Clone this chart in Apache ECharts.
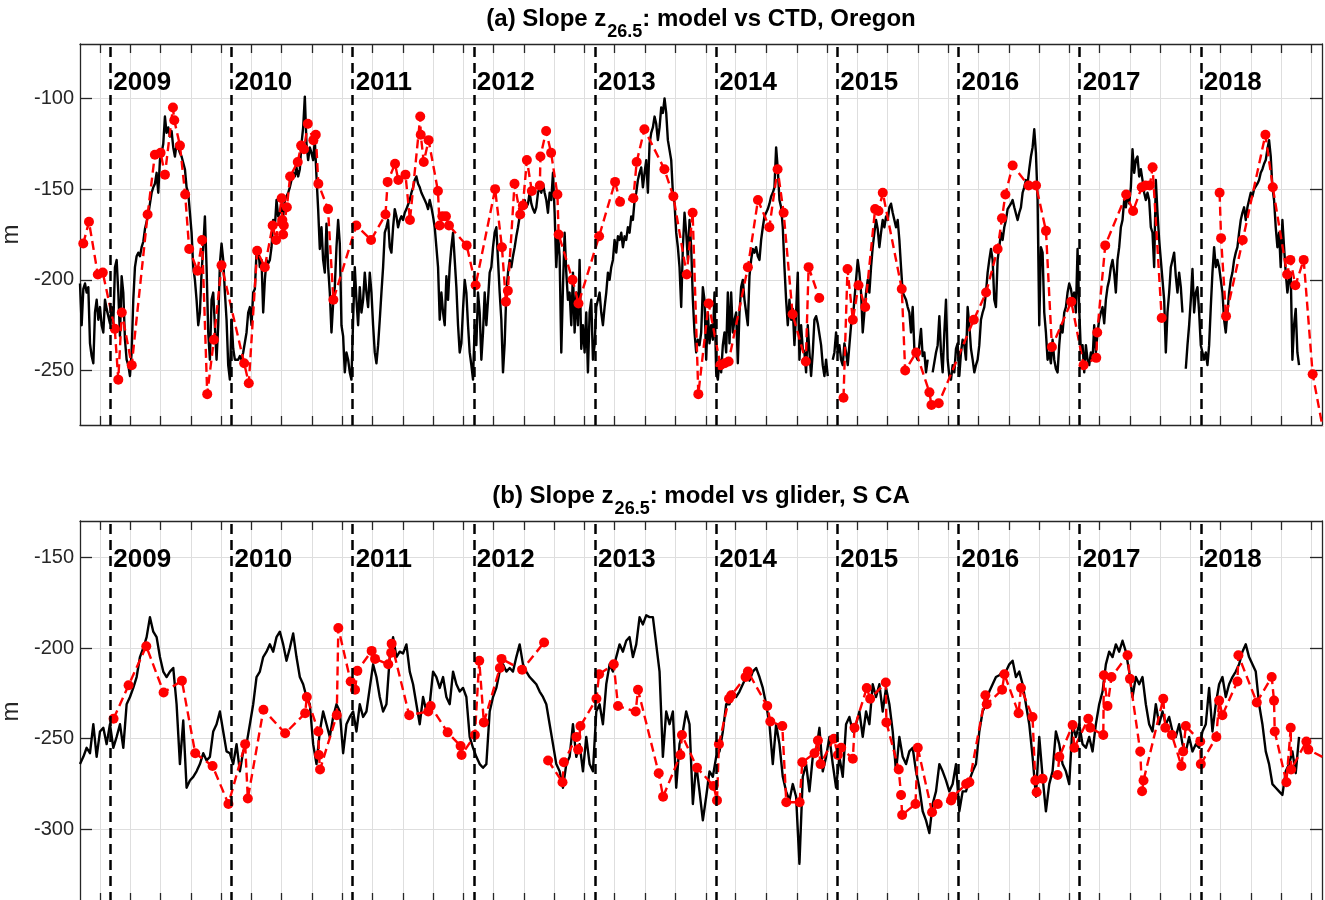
<!DOCTYPE html>
<html>
<head>
<meta charset="utf-8">
<title>Slope z26.5: model vs observations</title>
<script src="https://cdn.jsdelivr.net/npm/echarts@6/dist/echarts.min.js"></script>
<style>
  html, body { margin: 0; padding: 0; background: #ffffff; }
  #chart { width: 1325px; height: 900px; }
</style>
</head>
<body>
<div id="chart"></div>
<script>
// Depth of the 26.5 isopycnal over the slope (m): model vs observations.

// ---- axes / calendar ------------------------------------------------------
const X_MIN = 2008.75;            // 1 Oct 2008
const X_MAX = 2019.0;             // 1 Jan 2019
const yearLines = [2009, 2010, 2011, 2012, 2013, 2014, 2015, 2016, 2017, 2018];
const seasonMonths = [3, 6, 9, 12];          // tick marks on 1 Mar / Jun / Sep / Dec
const yTicksA = [-250, -200, -150, -100];
const yTicksB = [-300, -250, -200, -150];

// ---- (a) Oregon: model series (regular output, ~5 days) -------------------
const modelStartA = 2008.75;
const modelStepDaysA = 5.02;
const modelA = [
  -202,-225,-205,-202,-207,-204,-235,-242,-246,-218,
  -211,-222,-215,-225,-229,-211,-216,-220,-224,-215,
  -224,-193,-189,-207,-231,-198,-207,-233,-244,-247,
  -253,-240,-211,-193,
  -187,-185,-187,-182,-179,-172,-168,-164,-158,-152,
  -149,-147,-141,-152,-134,-130,-125,-110,-119,-116,
  -121,-118,-127,-132,-125,-127,-130,-132,-133,-139,
  -149,-152,-163,
  -174,-193,-200,-211,-225,-218,-196,-182,-165,-193,
  -229,-244,-211,-207,-207,-244,-225,-191,-180,-189,
  -207,-222,-247,-255,-222,-238,-244,-244,-244,-242,
  -244,-240,-240,-229,-218,-215,-225,-207,-205,-185,
  -182,-193,-189,-218,-200,-189,-191,-189,-182,-167,
  -171,-156,-165,-163,-160,-165,-156,-156,-152,-149,
  -145,-141,-143,-138,-143,-139,-125,-116,-99,-125,
  -134,-127,-130,-134,-123,-143,-161,-183,-171,-189,
  -196,-169,-193,-207,-229,-213,-204,-182,-167,-180,
  -225,-231,-251,-240,-244,-251,-255,-222,-193,-211,
  -225,-204,-218,-211,-196,-207,-215,-196,-207,-225,
  -240,-246,-236,-222,-207,-193,-174,-171,-167,-182,
  -185,-171,-161,-165,-171,-167,-165,-167,-163,-161,
  -160,-156,-152,-149,-145,-143,-147,-149,-152,-152,
  -156,-158,-161,-156,-160,-165,-171,-182,-193,-222,
  -207,-218,-225,-198,-211,-193,-182,-174,-189,-204,
  -225,-240,-235,-216,-200,-207,-225,-240,-247,-255,
  -225,-236,-207,-218,-244,-229,-207,-225,-211,-196,
  -193,-182,-174,-171,
  -189,-207,-222,-251,-235,-207,-196,-189,-193,-187,
  -182,-176,-171,-165,-161,-158,-156,-160,-158,-152,
  -158,-161,-163,-160,-152,-149,-152,-147,-152,-156,
  -163,-152,-156,-141,-163,-193,-174,-187,-240,-204,
  -174,-196,-211,-207,-225,-196,-229,-207,-225,-189,
  -238,-225,-240,-218,-251,-218,-211,-244,-236,-215,
  -211,-207,-218,-225,-215,-207,-196,-200,-193,-189,
  -178,-185,-176,-178,-174,-182,-176,-178,-171,-174,
  -165,-167,-156,-152,-145,-141,-138,-149,-141,-134,
  -152,-125,-119,-116,-110,-114,-123,-116,-105,-108,
  -100,-108,-123,-123,-134,-152,-158,-174,-182,-193,
  -215,-182,-163,-174,-189,-167,-182,-211,-229,-240,
  -233,-236,-229,-204,
  -211,-244,-218,-235,-225,-233,-207,-251,-255,-244,
  -251,-236,-229,-240,-207,-235,-207,-229,-222,-218,
  -246,-218,-204,-200,-211,-218,-225,-198,-189,-183,
  -185,-182,-187,-189,-178,-171,-165,-163,-161,-158,
  -154,-152,-149,-127,-139,-156,-160,-171,-193,-211,
  -225,-211,-222,-216,-236,-218,-196,-244,-225,-238,
  -240,-251,-225,-240,-253,-240,-222,-220,-224,-225,
  -236,-247,-253,-244,-253,null,null,-244,-240,-229,
  -240,-236,-244,-247,-235,-240,-247,-236,-225,-222,
  -211,-200,-189,-196,-207,-229,-218,-207,-200,-207,
  -193,-182,-174,-167,-172,-182,-174,-167,-171,-165,
  -167,-160,-158,-163,-167,-171,-167,-178,-193,-207,
  -207,-211,-215,-218,
  -229,-215,-238,-242,-244,-236,-227,-242,-240,-251,
  -244,null,null,-251,-251,-240,-236,-220,-240,-251,
  -229,-211,-244,-253,-255,-247,-251,-238,-235,-253,
  -240,-233,-236,-244,-215,-225,-238,-244,-251,-247,
  -244,-236,-222,-218,-215,-207,-196,-189,-183,-189,
  -211,-215,-189,-182,-174,-178,-171,-167,-161,-160,
  -158,-156,-160,-161,-167,-163,-160,-152,-149,-145,
  -147,-139,-132,-127,-117,-130,-156,-225,-182,-185,
  -218,-229,-244,-240,-246,-233,-244,-249,-251,-236,
  -225,-229,-218,-215,-207,-202,-205,-211,-207,-218,
  -183,-216,-240,-236,-251,-236,-244,-247,-240,-244,
  -225,-240,-229,-222,-218,-215,-224,-211,-204,-200,
  -193,-189,-196,-207,
  -189,-182,-171,-167,-156,-160,-152,-158,-149,-128,
  -141,-134,-132,-143,-139,-145,-152,-156,-152,-156,
  -171,-174,-193,-145,-163,-178,-189,-200,-211,-240,
  -218,-207,-193,-189,-185,-198,-207,-196,-204,-218,
  null,-249,-236,-225,-211,-194,-218,-207,-204,-218,
  -236,-240,-244,-240,-247,-236,-215,-196,-182,-193,
  -189,-193,-193,-207,-222,-229,-218,-207,-200,-196,
  -189,-185,-182,-174,-167,-163,-160,-167,-160,-156,
  -152,-154,-150,-149,-147,-145,-141,-139,-136,-134,
  -128,-123,-132,-149,-156,-171,-182,-174,-193,-167,
  -182,-196,-207,-200,-196,-244,-225,-216,-240,-247
];

// ---- (a) Oregon: CTD casts [decimal year, depth m] -------------------------
const ctdObs = [
  [2008.777,-180],[2008.824,-168],[2008.897,-197],[2008.938,-196],[2009.037,-227],
  [2009.066,-255],[2009.095,-218],[2009.177,-247],[2009.308,-164],[2009.368,-131],
  [2009.415,-130],[2009.451,-142],[2009.517,-105],[2009.528,-112],[2009.575,-126],
  [2009.618,-153],[2009.651,-183],[2009.720,-195],[2009.758,-178],[2009.800,-263],
  [2009.855,-233],[2009.918,-192],[2010.105,-246],[2010.143,-257],[2010.212,-184],
  [2010.275,-193],[2010.340,-170],[2010.368,-178],[2010.414,-155],[2010.420,-167],
  [2010.426,-175],[2010.432,-170],[2010.457,-160],[2010.484,-143],[2010.547,-135],
  [2010.575,-126],[2010.599,-128],[2010.630,-114],[2010.676,-123],[2010.696,-120],
  [2010.717,-147],[2010.797,-161],[2010.841,-211],[2011.030,-170],[2011.152,-178],
  [2011.271,-164],[2011.289,-146],[2011.350,-136],[2011.377,-145],[2011.436,-142],
  [2011.473,-167],[2011.558,-110],[2011.562,-120],[2011.587,-135],[2011.627,-123],
  [2011.704,-151],[2011.718,-170],[2011.740,-165],[2011.770,-165],[2011.795,-170],
  [2011.941,-181],[2012.015,-203],[2012.176,-150],[2012.232,-182],[2012.265,-212],
  [2012.281,-206],[2012.336,-147],[2012.383,-164],[2012.405,-159],[2012.438,-134],
  [2012.479,-151],[2012.545,-148],[2012.550,-132],[2012.597,-118],[2012.638,-130],
  [2012.690,-153],[2012.700,-175],[2012.815,-200],[2012.864,-213],[2013.034,-176],
  [2013.166,-146],[2013.207,-157],[2013.317,-155],[2013.344,-135],[2013.408,-117],
  [2013.573,-139],[2013.647,-154],[2013.757,-197],[2013.806,-163],[2013.853,-263],
  [2013.938,-213],[2014.035,-247],[2014.070,-246],[2014.103,-245],[2014.262,-193],
  [2014.345,-156],[2014.439,-171],[2014.507,-139],[2014.557,-163],[2014.631,-219],
  [2014.740,-245],[2014.763,-193],[2014.851,-210],[2014.950,null],[2015.051,-265],
  [2015.084,-194],[2015.128,-222],[2015.175,-203],[2015.230,-215],[2015.312,-161],
  [2015.340,-162],[2015.375,-152],[2015.532,-205],[2015.560,-250],[2015.651,-240],
  [2015.760,-262],[2015.777,-269],[2015.837,-268],[2016.126,-222],[2016.228,-207],
  [2016.323,-183],[2016.359,-166],[2016.387,-153],[2016.447,-137],[2016.579,-148],
  [2016.640,-148],[2016.722,-173],[2016.771,-237],[2016.931,-212],[2017.032,-247],
  [2017.137,-243],[2017.145,-229],[2017.211,-181],[2017.384,-153],[2017.441,-162],
  [2017.512,-149],[2017.543,-148],[2017.579,-148],[2017.602,-138],[2017.677,-221],
  [2017.900,null],[2018.155,-152],[2018.167,-177],[2018.208,-220],[2018.346,-178],
  [2018.533,-120],[2018.594,-149],[2018.712,-197],[2018.739,-189],[2018.780,-203],
  [2018.849,-189],[2018.923,-252],[2019.080,-308]
];

// ---- (b) Southern California: model series (regular output, ~10 days) ------
const modelStartB = 2008.75;
const modelStepDaysB = 10.04;
const modelB = [
  -264,-260,-255,-258,-242,-260,-246,-244,-253,-242,
  -255,-249,-242,-255,-231,-227,-222,-216,-205,-200,
  -194,-183,-191,-194,-205,-213,-216,-213,-211,-231,
  -264,-240,-277,-273,-271,-268,-264,-258,-262,-260,
  -246,-242,-235,-246,-257,-258,-264,-253,-268,-257,
  -253,-242,-231,-216,-213,-205,-202,-198,-202,-194,
  -191,-198,-207,-200,-192,-205,-216,-220,-227,-231,
  -253,-264,-246,-235,-242,-249,-238,-231,-235,-258,
  -242,-238,-235,-246,-231,-238,-235,-222,-209,-216,
  -227,-235,-231,-205,-194,-205,-202,-203,-198,-213,
  -220,-231,-242,-227,-235,-231,-213,-216,-222,-216,
  -227,-231,
  -213,-220,-224,-222,-227,-249,-255,-260,-264,-266,
  -264,-235,-227,-222,-213,-209,-213,-211,-213,-205,
  -198,-209,-213,-216,-218,-220,-224,-227,-231,-242,
  -253,-264,-268,-277,-264,-260,-242,-260,-253,-268,
  -249,-264,-268,-235,-231,-242,-220,-209,-213,-205,
  -198,-202,-196,-194,-205,-198,-183,-187,-182,-183,
  -183,-198,-213,-260,-235,-242,-235,-277,-253,-246,
  -235,-242,-286,-264,-279,-295,-282,-268,-271,-260,
  -257,-246,-231,-231,-224,-227,-224,-220,-216,-218,
  -213,-211,-216,-222,-231,-242,-264,-242,-253,-271,
  -279,-284,-275,-282,-319,-271,-264,-279,-260,-257,
  -244,-268,-260,-249,-264,-277,-260,-271,-242,-238,
  -246,-242,-235,-249,-235,-242,-220,-227,-220,-235,
  -222,-231,
  -246,-268,-249,-260,-264,-257,-255,-268,-277,-290,
  -295,-302,-286,-279,-264,-268,-273,-279,-275,-264,
  -290,-279,-279,-273,-268,-264,-246,-235,-231,-224,
  -220,-216,-215,-213,-213,-209,-207,-216,-213,-220,
  -231,-242,-260,-282,-249,-271,-290,-275,-268,-246,
  -253,-264,-268,-275,-242,-249,-242,-253,-255,-249,
  -257,-242,-231,-224,-209,-202,-205,-198,-202,-196,
  -202,-213,-227,-216,-220,-216,-231,-242,-246,-231,
  -242,-235,-242,-238,-246,-249,-242,-253,-257,-249,
  -257,-253,-255,-246,-242,-222,-246,-231,-220,-216,
  -227,-220,-216,-213,-209,-202,-198,-205,-209,-213,
  -231,-242,-257,-264,-275,-277,-279,-281,-268,-264,
  -257,-269,-249
];

// ---- (b) Southern California: glider profiles [decimal year, depth m] -------
const gliderObs = [
  [2009.027,-239],[2009.151,-220.5],[2009.297,-199],[2009.440,-224.5],[2009.591,-218],
  [2009.701,-258],[2009.844,-265],[2009.975,-286],[2010.113,-253],[2010.135,-283],
  [2010.264,-234],[2010.443,-247],[2010.608,-236],[2010.622,-227],[2010.717,-246],
  [2010.722,-259],[2010.731,-267],[2010.869,-237],[2010.882,-189],[2010.984,-218.5],
  [2011.020,-223],[2011.039,-212.6],[2011.157,-201.6],[2011.185,-206],[2011.294,-209],
  [2011.318,-202.6],[2011.322,-197.6],[2011.467,-237],[2011.624,-235],[2011.644,-232],
  [2011.784,-246.5],[2011.891,-254],[2011.899,-259],[2012.009,-248],[2012.045,-207],
  [2012.083,-241],[2012.215,-211],[2012.229,-206],[2012.399,-212],[2012.580,-197],
  [2012.600,null],[2012.613,-262],[2012.732,-274],[2012.743,-263],[2012.847,-249],
  [2012.861,-256],[2012.880,-243],[2013.012,-228],[2013.034,-214.5],[2013.155,-209],
  [2013.190,-232],[2013.336,-235],[2013.355,-223],[2013.526,-269],[2013.562,-282],
  [2013.705,-259],[2013.718,-248],[2013.842,-266],[2013.979,-276],[2014.007,-284],
  [2014.023,-253],[2014.106,-228],[2014.125,-226],[2014.243,-216],[2014.262,-213],
  [2014.422,-232],[2014.447,-240.5],[2014.546,-243],[2014.579,-285],[2014.689,-285],
  [2014.711,-263],[2014.812,-258],[2014.840,-251],[2014.862,-264],[2014.972,-250],
  [2015.005,-259],[2015.032,-255],[2015.128,-261],[2015.142,-244],[2015.243,-222],
  [2015.271,-228],[2015.400,-219],[2015.405,-241],[2015.507,-267],[2015.526,-281],
  [2015.535,-292],[2015.645,-286],[2015.664,-255],[2015.782,-290.5],[2015.829,-286],
  [2015.939,-284],[2015.952,-282],[2016.063,-275],[2016.090,-274],[2016.222,-226],
  [2016.233,-231],[2016.360,-223],[2016.379,-214.5],[2016.496,-236],[2016.516,-222],
  [2016.611,-238],[2016.634,-273],[2016.645,-279.5],[2016.694,-272],[2016.818,-270],
  [2016.832,-260],[2016.942,-242.5],[2016.956,-255],[2017.071,-239],[2017.087,-244],
  [2017.195,-248],[2017.200,-215],[2017.230,-232],[2017.263,-216],[2017.395,-204],
  [2017.415,-217],[2017.500,-257],[2017.515,-279],[2017.527,-273],[2017.690,-228],
  [2017.707,-244],[2017.761,-248],[2017.840,-265],[2017.854,-257],[2017.876,-243],
  [2017.995,-251.5],[2018.000,-264],[2018.128,-249],[2018.151,-229],[2018.178,-237],
  [2018.302,-218.5],[2018.310,-204],[2018.462,-230],[2018.585,-216],[2018.604,-229],
  [2018.610,-246],[2018.706,-274],[2018.742,-244],[2018.745,-267],[2018.871,-251.5],
  [2018.887,-256],[2019.060,-262]
];

// ---- helpers ---------------------------------------------------------------
function decimalYear(y, m, d) {
  const start = Date.UTC(y, 0, 1), end = Date.UTC(y + 1, 0, 1);
  return y + (Date.UTC(y, m - 1, d) - start) / (end - start);
}
const seasonTicks = [];
for (let y = 2008; y <= 2018; y++) {
  for (const m of seasonMonths) {
    const v = decimalYear(y, m, 1);
    if (v > X_MIN && v < X_MAX) seasonTicks.push(+v.toFixed(5));
  }
}
function regularSeries(start, stepDays, values) {
  return values.map((v, i) => [start + i * stepDays / 365.25, v]);
}

// ---- styling ---------------------------------------------------------------
const FONT = '"Liberation Sans", Arial, Helvetica, sans-serif';
const INK = '#262626';
const GRID_LINE = '#dedede';
const OBS_RED = '#ff0000';

const panels = [
  {
    head: '(a) Slope z', sub: '26.5', tail: ': model vs CTD, Oregon',
    gridTop: 44, titleTop: 7, yMin: -280, yMax: -70, yTicks: yTicksA,
    model: regularSeries(modelStartA, modelStepDaysA, modelA), obs: ctdObs
  },
  {
    head: '(b) Slope z', sub: '26.5', tail: ': model vs glider, S CA',
    gridTop: 521, titleTop: 484, yMin: -340, yMax: -130, yTicks: yTicksB,
    model: regularSeries(modelStartB, modelStepDaysB, modelB), obs: gliderObs
  }
];

const PLOT_LEFT = 80, PLOT_WIDTH = 1242, PLOT_HEIGHT = 381;
const PLOT_CENTER = PLOT_LEFT + PLOT_WIDTH / 2;

const grids = [], xAxes = [], yAxes = [], series = [], titles = [];

panels.forEach((p, k) => {
  grids.push({
    left: PLOT_LEFT, top: p.gridTop, width: PLOT_WIDTH, height: PLOT_HEIGHT,
    containLabel: false, outerBoundsMode: 'none'
  });

  titles.push({
    text: '{m|' + p.head + '}{s|' + p.sub + '}{m|' + p.tail + '}',
    left: PLOT_CENTER, top: p.titleTop, textAlign: 'center', padding: 0,
    textStyle: {
      rich: {
        m: { fontFamily: FONT, fontSize: 24, fontWeight: 'bold', color: '#000', lineHeight: 26, verticalAlign: 'top' },
        s: { fontFamily: FONT, fontSize: 18, fontWeight: 'bold', color: '#000', lineHeight: 20, padding: [16, 0, 0, 1], verticalAlign: 'top' }
      }
    }
  });

  const lineStyle = { color: INK, width: 1.3 };
  // bottom x axis: carries the data scale, season ticks and vertical grid
  xAxes.push({
    gridIndex: k, type: 'value', position: 'bottom', min: X_MIN, max: X_MAX,
    axisLine: { show: true, onZero: false, lineStyle },
    axisTick: { show: true, inside: true, length: 9, customValues: seasonTicks, lineStyle },
    axisLabel: { show: false },
    splitLine: { show: true, lineStyle: { color: GRID_LINE, width: 1 } }
  });
  // top x axis: frame + ticks
  xAxes.push({
    gridIndex: k, type: 'value', position: 'top', min: X_MIN, max: X_MAX,
    axisLine: { show: true, onZero: false, lineStyle },
    axisTick: { show: true, inside: true, length: 9, customValues: seasonTicks, lineStyle },
    axisLabel: { show: false },
    splitLine: { show: false }
  });
  // left y axis
  yAxes.push({
    gridIndex: k, type: 'value', position: 'left', min: p.yMin, max: p.yMax,
    name: 'm', nameLocation: 'middle', nameGap: 40, nameRotate: 90,
    nameTextStyle: { fontFamily: FONT, fontSize: 24, color: INK },
    axisLine: { show: true, onZero: false, lineStyle },
    axisTick: { show: true, inside: true, length: 12, customValues: p.yTicks, lineStyle },
    axisLabel: { show: true, customValues: p.yTicks, margin: 6, fontFamily: FONT, fontSize: 20, color: INK },
    splitLine: { show: true, lineStyle: { color: GRID_LINE, width: 1 } }
  });
  // right y axis: frame + ticks
  yAxes.push({
    gridIndex: k, type: 'value', position: 'right', min: p.yMin, max: p.yMax,
    axisLine: { show: true, onZero: false, lineStyle },
    axisTick: { show: true, inside: true, length: 12, customValues: p.yTicks, lineStyle },
    axisLabel: { show: false },
    splitLine: { show: false }
  });

  const xi = 2 * k, yi = 2 * k;
  const labelY = p.yMax - 21.3;

  // year markers: dashed line at 1 Jan plus bold year label
  series.push({
    type: 'scatter', xAxisIndex: xi, yAxisIndex: yi, z: 1, silent: true,
    symbolSize: 0,
    itemStyle: { opacity: 1 },
    data: yearLines.map(y => [y, labelY]),
    label: {
      show: true, position: 'right', distance: 3,
      formatter: d => String(d.value[0]),
      fontFamily: FONT, fontSize: 26, fontWeight: 'bold', color: '#000', opacity: 1
    },
    markLine: {
      silent: true, symbol: ['none', 'none'], animation: false,
      label: { show: false },
      lineStyle: { color: '#000', width: 2.5, type: [10, 6], opacity: 1 },
      data: yearLines.map(y => ({ xAxis: y }))
    }
  });

  // model
  series.push({
    type: 'line', xAxisIndex: xi, yAxisIndex: yi, z: 3,
    data: p.model, showSymbol: false, connectNulls: false,
    lineStyle: { color: '#000', width: 2.4, join: 'round' },
    emphasis: { disabled: true }
  });

  // observations
  series.push({
    type: 'line', xAxisIndex: xi, yAxisIndex: yi, z: 4,
    data: p.obs, connectNulls: false, clip: true,
    symbol: 'circle', symbolSize: 10, showSymbol: true,
    itemStyle: { color: OBS_RED },
    lineStyle: { color: OBS_RED, width: 2.4, type: [9, 5] },
    emphasis: { disabled: true }
  });
});

const chart = echarts.init(document.getElementById('chart'), null, { renderer: 'canvas' });
chart.setOption({
  animation: false,
  backgroundColor: '#ffffff',
  title: titles,
  grid: grids,
  xAxis: xAxes,
  yAxis: yAxes,
  series: series
});
</script>
</body>
</html>
